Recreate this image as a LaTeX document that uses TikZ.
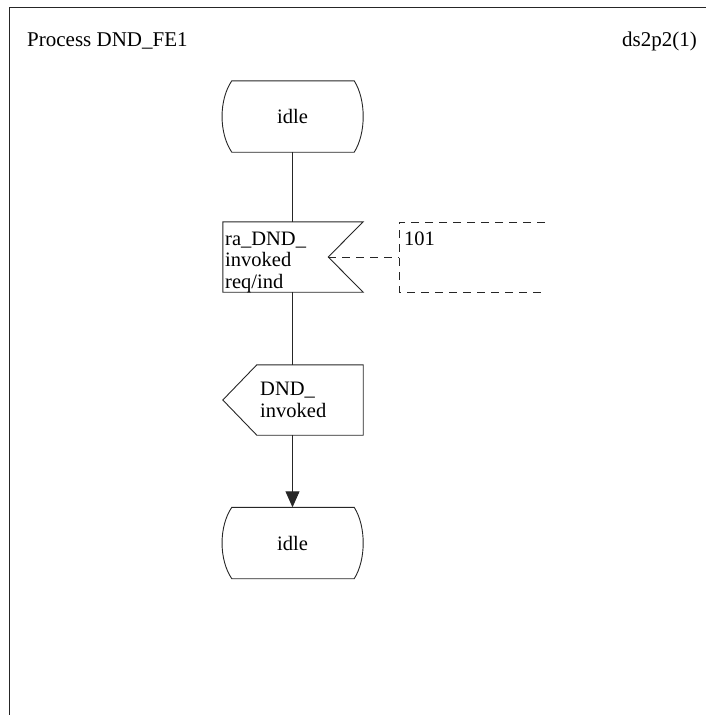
\documentclass[tikz,border=0pt]{standalone}
\usepackage{fontspec}
\setmainfont{Liberation Serif}
\usetikzlibrary{arrows.meta}
\begin{document}
\begin{tikzpicture}[x=1pt,y=-1pt,
  ln/.style={draw=black!85, line width=0.9pt},
  dsh/.style={draw=black!85, line width=0.9pt, dash pattern=on 8pt off 6pt},
  frm/.style={inner sep=0pt, minimum width=141pt, minimum height=71pt},
  txt/.style={inner sep=0pt, font=\fontsize{20.5}{21.3}\selectfont, align=left},
  ttl/.style={inner sep=0pt, font=\fontsize{21}{24}\selectfont}]
\useasboundingbox (0,0) rectangle (706,715);
\draw[ln] (9,715) -- (9,7) -- (706,7);
\node[ttl, anchor=base west] (title) at (27,46) {Process DND\_FE1};
\node[ttl, anchor=base east] (page) at (697,46) {ds2p2(1)};
% idle 1
\node[frm] (idle1) at (292.5,116.5) {};
\node[txt] (idle1t) at (idle1.center) {idle};
\draw[ln] ([xshift=10pt]idle1.north west) -- ([xshift=-9pt]idle1.north east)
  .. controls ([xshift=3pt,yshift=-19pt]idle1.north east) and ([xshift=3pt,yshift=19pt]idle1.south east) .. ([xshift=-9pt]idle1.south east)
  -- ([xshift=10pt]idle1.south west)
  .. controls ([xshift=-3pt,yshift=19pt]idle1.south west) and ([xshift=-3pt,yshift=-19pt]idle1.north west) .. cycle;
% input
\node[frm, minimum width=140pt, minimum height=70pt] (in1) at (293,257) {};
\draw[ln] (in1.north west) -- (in1.north east) -- ([xshift=-35pt]in1.east) coordinate (notch)
  -- (in1.south east) -- (in1.south west) -- cycle;
\node[txt, anchor=base west] (in1t) at (225,288) {ra\_DND\_\\invoked\\req/ind};
% comment
\coordinate (cmA) at (545,222);
\coordinate (cmB) at (399,222);
\coordinate (cmC) at (399,292);
\coordinate (cmD) at (545,292);
\coordinate (cmM) at (399,257);
\draw[dsh] (cmA) -- (cmB) -- (cmC) -- (cmD);
\draw[dsh] (notch) -- (cmM);
\node[txt, anchor=base west] (cmt) at (404,245.5) {101};
% output
\node[frm, minimum width=140pt, minimum height=70pt] (out1) at (293,400) {};
\draw[ln] ([xshift=34pt]out1.north west) -- (out1.north east) -- (out1.south east)
  -- ([xshift=34pt]out1.south west) -- (out1.west) -- cycle;
\node[txt, anchor=base west] (out1t) at (260,417) {DND\_\\invoked};
% idle 2
\node[frm] (idle2) at (292.5,543) {};
\node[txt] (idle2t) at (idle2.center) {idle};
\draw[ln] ([xshift=10pt]idle2.north west) -- ([xshift=-9pt]idle2.north east)
  .. controls ([xshift=3pt,yshift=-19pt]idle2.north east) and ([xshift=3pt,yshift=19pt]idle2.south east) .. ([xshift=-9pt]idle2.south east)
  -- ([xshift=10pt]idle2.south west)
  .. controls ([xshift=-3pt,yshift=19pt]idle2.south west) and ([xshift=-3pt,yshift=-19pt]idle2.north west) .. cycle;
% connectors
\draw[ln] (idle1.south) -- (in1.north -| idle1.south);
\draw[ln] (in1.south -| idle1.south) -- (out1.north -| idle1.south);
\draw[ln, -{Triangle[length=16pt,width=14pt]}] (out1.south -| idle1.south) -- (idle2.north);
\end{tikzpicture}
\end{document}
